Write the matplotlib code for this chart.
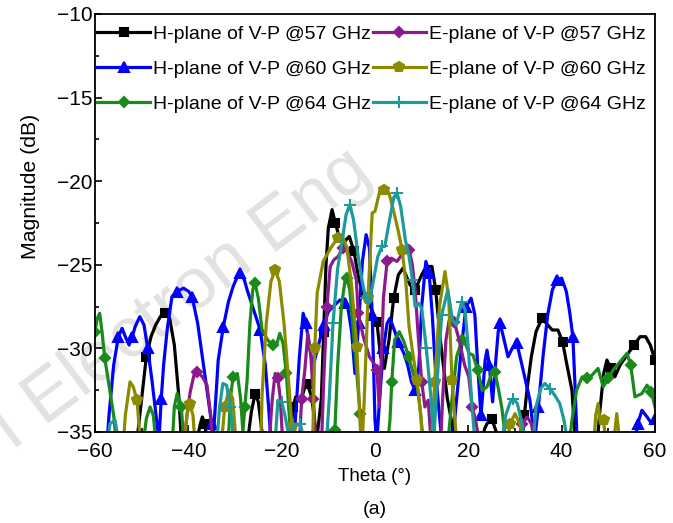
import matplotlib
matplotlib.use("Agg")
import matplotlib.pyplot as plt
from matplotlib.ticker import MultipleLocator

plt.rcParams['font.family'] = ['Liberation Sans', 'DejaVu Sans']

# ---------------- data (theta in degrees, magnitude in dB) ----------------
h57_theta = [-60, -52, -51, -50, -49, -48, -47, -46, -45, -44, -43, -42, -41.5,
             -38.5, -37.5, -37, -36.5, -36,
             -27.5, -26.5, -25.7, -25, -24,
             -18.5, -17.5, -17, -16, -15, -14.5, -13.5, -12.5,
             -11.5, -11, -10.5, -10, -9.2, -8.5, -7.5, -6.5, -5.5, -4.5, -3.5, -2.5, -1, 0.4,
             1.2, 2, 3, 4, 5, 6, 7.5, 8.6, 10, 11, 12.2, 13, 14, 15.5, 16.5, 17,
             22.5, 23.5, 24, 25, 26, 26.5,
             31.5, 32, 32.6, 33.5, 34.5, 35.8, 37, 38, 39.2, 40.2, 41, 42.2, 42.9,
             47.5, 48.2, 49, 49.7, 50.5, 51.4, 52.5, 54, 55.5, 56.8, 58, 59, 60]
h57_mag = [-36, -36, -35.5, -33, -30.5, -29.3, -28.6, -28.1, -27.9, -28.2, -29.8, -33, -35.5,
           -36, -34.6, -34.1, -34.5, -35.5,
           -36, -33.8, -32.7, -33.2, -35.5,
           -36, -33.5, -32.9, -33.2, -32.3, -32.1, -33, -35.5,
           -33, -29, -25, -22.8, -21.7, -22.5, -23.5, -23.6, -23.3, -24.2, -25.8, -26.8, -27.5, -28.4,
           -30.5, -31.2, -29.5, -27, -25.6, -25.2, -26.2, -26.5, -25.6, -25.1, -25.1, -26.5, -29.5, -33, -34.5, -36,
           -36, -34.8, -34.5, -34.2, -35, -36,
           -36, -34, -32.4, -30.5, -29, -28.2, -28.6, -28.9, -28.9, -29.6, -30.8, -32.5, -35.5,
           -36, -33.7, -31.5, -30.7, -31.2, -31.7, -31, -30.4, -29.8, -29.3, -29.3, -29.8, -30.7]

h60_theta = [-60, -57.5, -57, -56, -55, -54.2, -53.5, -52.7, -52, -51.4, -50.4, -49.5, -48.7, -47.8, -47, -46.3,
             -45.8, -45.3, -44.5, -43.5, -42.5, -41.8, -41, -39.9, -39.2, -38, -37, -36, -35, -34.7,
             -34, -33.6, -32.5, -31.4, -30.4, -29.5, -28.9, -28, -27.4, -26, -24.6, -23.5, -22.8, -22.3,
             -17.5, -17, -16.2, -15.4, -14.8, -14, -13.3, -12.3, -11, -10, -9, -7.5, -6.5, -5.8, -5, -4.3,
             -3.5, -2.7, -1.9, -1.2, -0.6, 0, 0.4, 1, 1.8, 2.6, 3.2, 4, 5, 6.2, 7, 7.8, 8.6, 9.4,
             10, 10.9, 11.6, 12.3, 13, 13.8, 14.3,
             16.5, 17.5, 18.5, 19.5, 20.6, 21.4, 22, 22.7, 23, 23.6, 24, 24.5, 25.2, 25.8, 26.4, 26.8,
             27.5, 28.5, 29.4, 30.4, 31.5, 33.2, 34.2, 35, 36, 37, 38, 39, 40, 41, 41.7, 42.4, 42.9, 43.3,
             55.5, 56.3, 57.2, 58.3, 59.3, 60]
h60_mag = [-36, -36, -34, -31, -29.3, -28.8, -29.3, -29.8, -29.3, -28.7, -28.1, -28.6, -30, -31.9, -33.8, -35.5,
           -33, -31, -28.8, -26.9, -26.6, -26.5, -26.4, -26.6, -26.9, -28.5, -30.5, -32.5, -34.5, -35.5,
           -32.5, -30.7, -28.7, -27.2, -26.3, -25.7, -25.5, -25.9, -26.5, -27.7, -28.9, -31, -33.5, -35.5,
           -36, -34, -30.5, -27.9, -28.5, -30, -31.1, -30, -28.6, -27.8, -27.5, -27.1, -27.3, -27.6, -29, -31.5,
           -28.5, -24.8, -23.2, -24, -28, -34.3, -35.5, -33, -30, -28.5, -28.2, -28.8, -29.6, -30.3, -31, -32, -32.5, -31.1,
           -27.5, -24.8, -25.5, -28.1, -31.5, -34, -35.5,
           -36, -33, -30, -27.5, -27.0, -28, -31, -34, -33, -30.7, -30.1, -31, -33.2, -31, -29, -28.5,
           -29.3, -30.5, -30, -29.7, -31, -33.1, -35.5, -33.5, -30.5, -28, -26.5, -25.9, -25.8, -26.6, -27.8, -29.3, -32.5, -35.5,
           -36, -34.5, -33.7, -34.1, -34.5, -34.2]

h64_theta = [-60, -59.5, -59, -58.5, -57.9, -57, -56, -55.5,
             -49.8, -49, -48.2, -47.5, -47,
             -43.5, -43, -42.4, -41.5, -41,
             -31.5, -31, -30.4, -29.5, -28.8, -28.3, -27.9, -27.4, -26.8, -26.2, -25.7, -25, -24.2, -23, -21.9,
             -21, -20.4, -19.7, -19, -18.5, -18,
             -9, -8.6, -8, -7.2, -6.4, -6, -5.4, -4.5, -3.6, -3.2, -2.7,
             2.6, 3.2, 3.6, 4.2, 5.2, 6.2, 7.2, 8.2, 9.2, 9.8, 10.3,
             15.5, 16.5, 17.5, 18.6, 19.5, 20.2, 21, 22, 23, 24, 25, 25.7, 26.5, 27.2, 28,
             41.5, 42.2, 43.2, 44.4, 45.5, 46.5, 47.8, 48.9, 50, 51, 52.5, 54, 54.8, 55.7, 57.2, 58.3, 59.2, 60]
h64_mag = [-29, -28.2, -27.9, -29, -30.6, -32.2, -34, -35.5,
           -36, -34.2, -33.5, -34, -35.5,
           -36, -33.5, -32.7, -33.5, -35.5,
           -36, -33, -31.7, -31.5, -33, -35, -33.5, -31.9, -28.5, -26.5, -26.1, -27, -28.9, -29.5, -29.8,
           -29.7, -29.1, -29.7, -31.5, -33.5, -35.5,
           -36, -34.9, -31, -27.5, -25.9, -25.8, -26.5, -29.5, -32.5, -33.9, -35.5,
           -36, -34.3, -32, -29.5, -29, -29.6, -30.5, -31.5, -32.5, -34, -35.5,
           -36, -33, -30.5, -29.5, -29.8, -30.3, -30.4, -31.3, -32.5, -32.3, -31.5, -31.4, -32.5, -33.6, -35.5,
           -36, -34.3, -32.5, -31.7, -31.8, -31.6, -31.2, -32.3, -31.8, -31.3, -30.8, -30.3, -31, -32.9, -32.7, -32.2, -32.6, -33.5]

e57_theta = [-41, -40.3, -39.6, -38.8, -38.1, -37, -36, -35.2, -34.8,
             -22.8, -22, -21.4, -20.8, -20.3, -19.8,
             -16.3, -15.7, -15, -14.4, -13.8, -13.2, -12.7,
             -11.5, -11, -10.3, -9.6, -8.8, -7.9, -6.9, -6, -5, -4, -3.6, -2.5, -1.2, 0, 0.4, 0.9,
             1.3, 1.8, 2.6, 3.5, 4.7, 6, 7.3, 8, 8.6, 9.2, 10, 10.7, 11.4, 12,
             14, 14.5, 15.2, 15.9, 17, 18.2, 19.2, 20.1, 20.8, 21.5, 22.3,
             30.5, 31.5, 32.6, 33.5, 34.5]
e57_mag = [-36, -34, -32.6, -31.6, -31.4, -31.7, -32.2, -34, -36,
           -36, -33, -31.5, -31.8, -33, -35.5,
           -36, -33, -31.2, -29.1, -30.2, -33, -35.5,
           -36, -32, -27.5, -25.1, -24.7, -24.5, -24, -24.2, -24.8, -25.9, -27.9, -29.3, -30.5, -31, -31.3, -33.5,
           -31, -27, -24.8, -24.6, -24.8, -24.3, -24.1, -25, -26.5, -29, -32, -33.5, -33.1, -35.5,
           -36, -33, -29.5, -28.3, -28.4, -29.7, -31, -31.7, -33.5, -34.2, -35.5,
           -36, -34.5, -34.1, -34.5, -36]

e60_theta = [-54, -53.5, -52.5, -51.8, -51, -50.3,
             -41, -40.3, -39.7, -39, -38.5,
             -33, -32.2, -31.3, -30.5, -29.8,
             -24.5, -24.2, -23.3, -22.3, -21.4, -20.5, -19.5, -18.5, -17.8, -17.3,
             -13.8, -13.3, -12.9, -12.4, -11.1, -9.5, -8, -7.1, -6, -5, -3.9, -3.2, -2.8,
             -2.3, -1.5, -0.6, 0, 1.1, 2, 3, 4, 5, 5.8, 6.6, 7.3, 8.2, 9, 9.8, 10.3,
             12, 12.8, 13.8, 15, 15.8, 16.5, 17.2, 17.6,
             28, 29, 30, 31, 32,
             46.8, 47.3, 47.8, 48.3, 49, 49.5,
             51, 51.8, 52.6]
e60_mag = [-36, -34, -32, -32.3, -33.1, -35.5,
           -36, -34, -33.3, -34, -36,
           -36, -33.5, -32.5, -33, -35.5,
           -36, -32.8, -28.5, -26, -25.3, -26, -28.5, -32, -34.7, -36,
           -36, -34.9, -30, -26.7, -24.8, -24, -23.4, -23.2, -24, -26.3, -29.9, -34.5, -36,
           -33, -27, -21.9, -21.8, -20.5, -20.5, -20.7, -21.8, -23, -24.1, -26, -28.7, -30.5, -31.9, -34, -36,
           -36, -32, -27.5, -25.4, -27, -31.9, -34.5, -36,
           -36, -34.5, -33.9, -34.5, -36,
           -36, -34, -33.3, -34.5, -34.3, -36,
           -36, -33.9, -36]

e64_theta = [-57.5, -56.8, -55.7, -55,
             -34, -33.3, -32.6, -31.8, -31, -30.3,
             -21.5, -20.8, -20, -19.3, -18.5, -17.3, -16, -15.2,
             -10.5, -9.8, -9, -8, -7.1, -6.2, -5.4, -4.6, -3.6, -2.8, -2, -1.3, -0.5, 0.6, 1.5, 2.1,
             3, 4, 4.7, 5.5, 6.5, 7.3, 8, 8.6, 9.3, 10, 11, 12, 12.6,
             13.3, 14.3, 15.6, 16.6, 17.4, 18.6, 19.3, 20, 20.8, 21.4,
             27, 28, 29, 29.6, 30.5, 31.5, 32.5,
             33.8, 34.5, 35.5, 36.4, 37.5, 38.5, 39.6, 40.5, 41.5]
e64_mag = [-36, -34.5, -34.3, -35.5,
           -36, -33.5, -32.1, -32.2, -33.5, -35.5,
           -36, -33.1, -33.2, -34, -35.2, -34.6, -34.5, -35.5,
           -36, -33, -28.5, -25.2, -23.7, -22, -21.4, -22.3, -24.5, -25.9, -27, -27.3, -26.2, -24.5, -23.9, -23.9,
           -22.5, -21, -20.7, -21.5, -23.5, -24.5, -25.9, -27.5, -27.3, -27.6, -30, -33, -35.5,
           -32, -28, -26.5, -28.3, -28.6, -27.2, -27.7, -30, -33.5, -35.5,
           -36, -34, -33.2, -33, -33.3, -34.5, -36,
           -36, -33.5, -32.4, -32.1, -32.4, -32.8, -33.3, -34.3, -36]

labels = ['H-plane of V-P @57 GHz', 'H-plane of V-P @60 GHz', 'H-plane of V-P @64 GHz',
          'E-plane of V-P @57 GHz', 'E-plane of V-P @60 GHz', 'E-plane of V-P @64 GHz']

# ---------------- figure ----------------
fig = plt.figure(figsize=(6.73, 5.23), dpi=100)
ax = fig.add_axes([95/673, 1-432/523, (655-95)/673, (432-14)/523])

styles = [
    (h57_theta, h57_mag, 'black', 's', 6),
    (h60_theta, h60_mag, '#0000ff', '^', 7),
    (h64_theta, h64_mag, '#1a8a1a', 'D', 5.5),
    (e57_theta, e57_mag, '#8b1a8b', 'D', 5.5),
    (e60_theta, e60_mag, '#8b8b00', 'p', 7),
    (e64_theta, e64_mag, '#1f9a9a', '+', 8),
]
for (th, mg, col, mk, ms), lab in zip(styles, labels):
    ax.plot(th, mg, color=col, lw=2.3, marker=mk, ms=ms, markevery=4,
            mew=1.5, label=lab, zorder=2)

ax.set_xlim(-60, 60)
ax.set_ylim(-35, -10)
ax.xaxis.set_major_locator(MultipleLocator(20))
ax.xaxis.set_minor_locator(MultipleLocator(10))
ax.yaxis.set_major_locator(MultipleLocator(5))
ax.yaxis.set_minor_locator(MultipleLocator(2.5))
ax.tick_params(which='both', direction='in', labelsize=15, width=1.2)
ax.tick_params(which='major', length=5)
ax.tick_params(which='minor', length=3)
ax.tick_params(axis='x', which='major', pad=7)
ax.tick_params(axis='y', which='major', pad=2)
for s in ax.spines.values():
    s.set_linewidth(1.3)

ax.set_xlabel('Theta (°)', fontsize=13.5)
ax.set_ylabel('Magnitude (dB)', fontsize=15.3)
ax.xaxis.set_label_coords(0.5, (432 - 468) / 418)
ax.yaxis.set_label_coords((40 - 95) / 560, (432 - 186) / 418)
fig.text(375/673, 1-510/523, '(a)', fontsize=14, ha='center', va='center')

# watermark
ax.text(182/673, 1-300/523, 'I Electron Eng', transform=fig.transFigure,
        fontsize=52, rotation=37, color='#e2e2e2',
        ha='center', va='center', zorder=0, clip_on=False)

leg = ax.legend(loc='upper left', bbox_to_anchor=(0.0, 1 - 9/418), ncol=2,
                frameon=False, fontsize=14,
                handlelength=2.75, handletextpad=0.12, columnspacing=0.1,
                labelspacing=0.9, borderaxespad=0.0, borderpad=0.1)

fig.savefig('out.png', dpi=100)
